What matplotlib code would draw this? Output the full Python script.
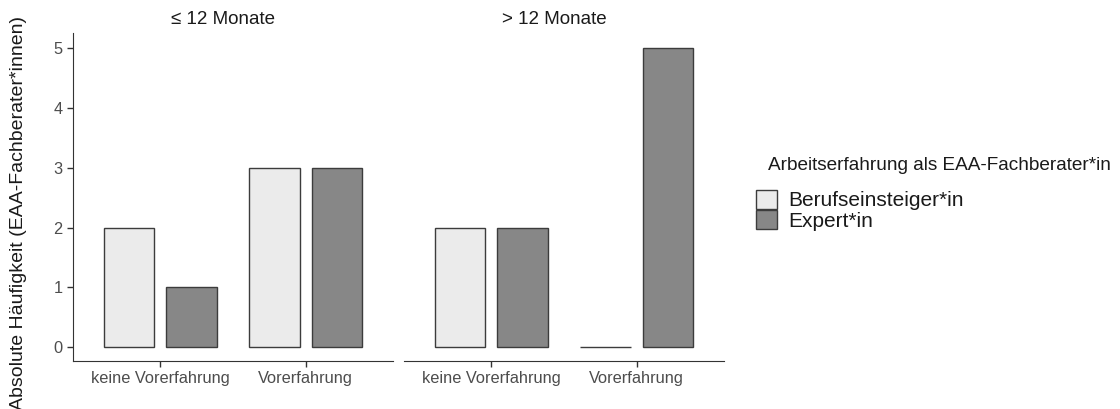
import numpy as np
import matplotlib.pyplot as plt
from matplotlib.patches import Patch

plt.rcParams['font.family'] = ['Liberation Sans', 'DejaVu Sans']

# counts per panel, category and group
panels = ['≤ 12 Monate', '> 12 Monate']
categories = ['keine Vorerfahrung', 'Vorerfahrung']
groups = ['Berufseinsteiger*in', 'Expert*in']
counts = {
    '≤ 12 Monate': {'Berufseinsteiger*in': [2, 3], 'Expert*in': [1, 3]},
    '> 12 Monate': {'Berufseinsteiger*in': [2, 0], 'Expert*in': [2, 5]},
}
fills = {'Berufseinsteiger*in': '#ebebeb', 'Expert*in': '#878787'}
edge = '#3c3c3c'
txt = '#4d4d4d'

fig = plt.figure(figsize=(11.2, 4.09), dpi=100)
bottom, top = 1 - 361 / 409, 1 - 33 / 409
lefts = [73 / 1120, 404 / 1120]
width = 320 / 1120

x = np.arange(1, len(categories) + 1)
offsets = [-0.215, 0.215]
bar_w = 0.35

for i, panel in enumerate(panels):
    ax = fig.add_axes([lefts[i], bottom, width, top - bottom])
    for g, off in zip(groups, offsets):
        ax.bar(x + off, counts[panel][g], width=bar_w, color=fills[g],
               edgecolor=edge, linewidth=1.0)
    ax.set_xlim(0.4, 2.6)
    ax.set_ylim(-0.23, 5.25)
    ax.set_xticks(x)
    ax.set_xticklabels(categories)
    # strip label above each panel
    ax.text(0.47, 1.0 + 5 / 328, panel, transform=ax.transAxes, ha='center',
            va='bottom', fontsize=13.5, color='#1a1a1a')
    for s in ['top', 'right']:
        ax.spines[s].set_visible(False)
    ax.spines['bottom'].set_color('#333333')
    ax.spines['left'].set_color('#333333')
    ax.tick_params(axis='both', colors='#333333', labelcolor=txt,
                   labelsize=11.8, length=4, width=1)
    if i == 0:
        ax.set_yticks(range(6))
        ax.set_ylabel('Absolute Häufigkeit (EAA-Fachberater*innen)',
                      fontsize=14, color='#1a1a1a')
        ax.yaxis.set_label_coords(-0.144, 0.452)
    else:
        ax.spines['left'].set_visible(False)
        ax.set_yticks([])

fig.text(768 / 1120, 1 - 165 / 409, 'Arbeitserfahrung als EAA-Fachberater*in',
         ha='left', va='center', fontsize=13.7, color='#1a1a1a')
handles = [Patch(facecolor=fills[g], edgecolor=edge, linewidth=1.0) for g in groups]
leg = fig.legend(handles, groups,
                 loc='upper left', bbox_to_anchor=(756 / 1120, 1 - 190 / 409),
                 frameon=False, fontsize=15,
                 handlelength=1.0, handleheight=1.0, labelspacing=0.0,
                 handletextpad=0.55, borderaxespad=0, borderpad=0)
for t in leg.get_texts():
    t.set_color('#1a1a1a')

fig.savefig('out.png', dpi=100)
